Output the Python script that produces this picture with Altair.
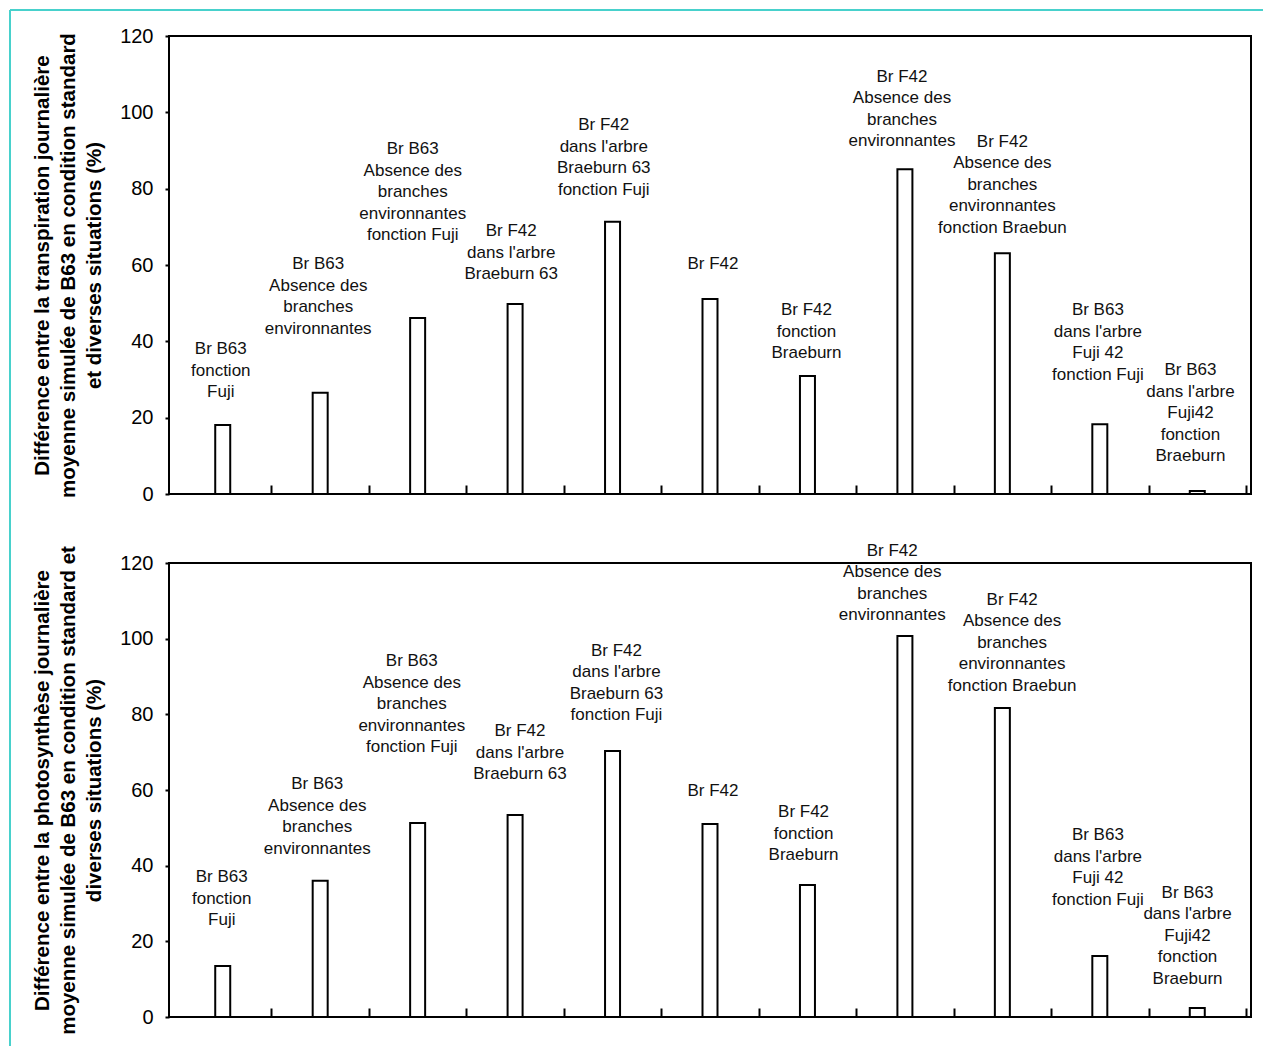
import altair as alt
import pandas as pd

# ---------------- data ----------------
positions = [1, 2, 3, 4, 5, 6, 7, 8, 9, 10, 11]
label_lines = [
    ["Br B63", "fonction", "Fuji"],
    ["Br B63", "Absence des", "branches", "environnantes"],
    ["Br B63", "Absence des", "branches", "environnantes", "fonction Fuji"],
    ["Br F42", "dans l'arbre", "Braeburn 63"],
    ["Br F42", "dans l'arbre", "Braeburn 63", "fonction Fuji"],
    ["Br F42"],
    ["Br F42", "fonction", "Braeburn"],
    ["Br F42", "Absence des", "branches", "environnantes"],
    ["Br F42", "Absence des", "branches", "environnantes", "fonction Braebun"],
    ["Br B63", "dans l'arbre", "Fuji 42", "fonction Fuji"],
    ["Br B63", "dans l'arbre", "Fuji42", "fonction", "Braeburn"],
]
transpiration = [18.1, 26.5, 46.1, 49.8, 71.3, 51.1, 30.9, 85.1, 63.1, 18.3, 0.8]
photosynthese = [13.5, 36.0, 51.3, 53.4, 70.3, 51.0, 34.9, 100.7, 81.7, 16.1, 2.4]

# label anchors (data units: x category position, y = level of the first line)
label_x_transp = [0.98, 1.98, 2.95, 3.96, 4.91, 6.03, 6.99, 7.97, 9.00, 9.98, 10.93]
label_y_transp = [35.6, 57.9, 88.0, 66.5, 94.3, 57.9, 45.8, 106.9, 89.9, 45.8, 30.1]
label_x_photo = [0.99, 1.97, 2.94, 4.05, 5.04, 6.03, 6.96, 7.87, 9.10, 9.98, 10.90]
label_y_photo = [34.6, 59.2, 91.7, 73.2, 94.4, 57.4, 51.8, 120.8, 107.9, 45.7, 30.4]

category_bounds = [1.5, 2.5, 3.5, 4.5, 5.5, 6.5, 7.5, 8.5, 9.5, 10.5, 11.5]
y_ticks = [0, 20, 40, 60, 80, 100, 120]

title_transp = [
    "Différence entre la transpiration journalière",
    "moyenne simulée de B63 en condition standard",
    "et diverses situations (%)",
]
title_photo = [
    "Différence entre la photosynthèse journalière",
    "moyenne simulée de B63 en condition standard et",
    "diverses situations (%)",
]

FONT = "Liberation Sans, Arial, sans-serif"
TEAL = "#48D1CC"
PLOT_W = 1082


def panel(values, lx, ly, title, h, border=False):
    df = pd.DataFrame({"pos": positions, "value": values})
    lab = pd.DataFrame({"pos": lx, "value": ly,
                        "label": ["\n".join(l) for l in label_lines]})
    xscale = alt.Scale(domain=[0.5, 11.5], nice=False, zero=False)
    yscale = alt.Scale(domain=[0, 120], nice=False)
    x_enc = alt.X("pos:Q", scale=xscale,
                  axis=alt.Axis(values=category_bounds, labels=False, domain=False,
                                grid=False, ticks=True, tickSize=9, tickWidth=2,
                                tickColor="black", offset=-9, title=None))
    y_enc = alt.Y("value:Q", scale=yscale,
                  axis=alt.Axis(values=y_ticks, grid=False, domain=False,
                                tickSize=4, tickWidth=2, tickColor="black",
                                labelPadding=12, labelFont=FONT, labelFontSize=20,
                                labelColor="black", title=title, titleFont=FONT,
                                titleFontSize=20.5, titleFontWeight="bold",
                                titleColor="black", titleLineHeight=26,
                                titlePadding=15))
    bars = alt.Chart(df).mark_bar(
        size=15, fill="white", stroke="black", strokeWidth=2
    ).encode(x=x_enc, y=y_enc)
    texts = alt.Chart(lab).mark_text(
        font=FONT, fontSize=17, lineBreak="\n", baseline="bottom",
        align="center", color="#111111", lineHeight=21.5
    ).encode(x=x_enc, y=y_enc, text="label:N")
    layers = [bars, texts]
    if border:
        one = pd.DataFrame({"k": [0]})
        vline = alt.Chart(one).mark_rule(color=TEAL, strokeWidth=2).encode(
            x=alt.value(-159), y=alt.value(-26), y2=alt.value(1010))
        hline = alt.Chart(one).mark_rule(color=TEAL, strokeWidth=2).encode(
            x=alt.value(-159), x2=alt.value(1094), y=alt.value(-26))
        layers += [vline, hline]
    return alt.layer(*layers).properties(width=PLOT_W, height=h)


top = panel(transpiration, label_x_transp, label_y_transp, title_transp, 458, border=True)
bottom = panel(photosynthese, label_x_photo, label_y_photo, title_photo, 454)

chart = alt.vconcat(top, bottom, spacing=69, bounds="flush").properties(
    padding=0
).configure_view(stroke="black", strokeWidth=2)

chart.save("out.html", embed_options={"renderer": "svg", "actions": False})
